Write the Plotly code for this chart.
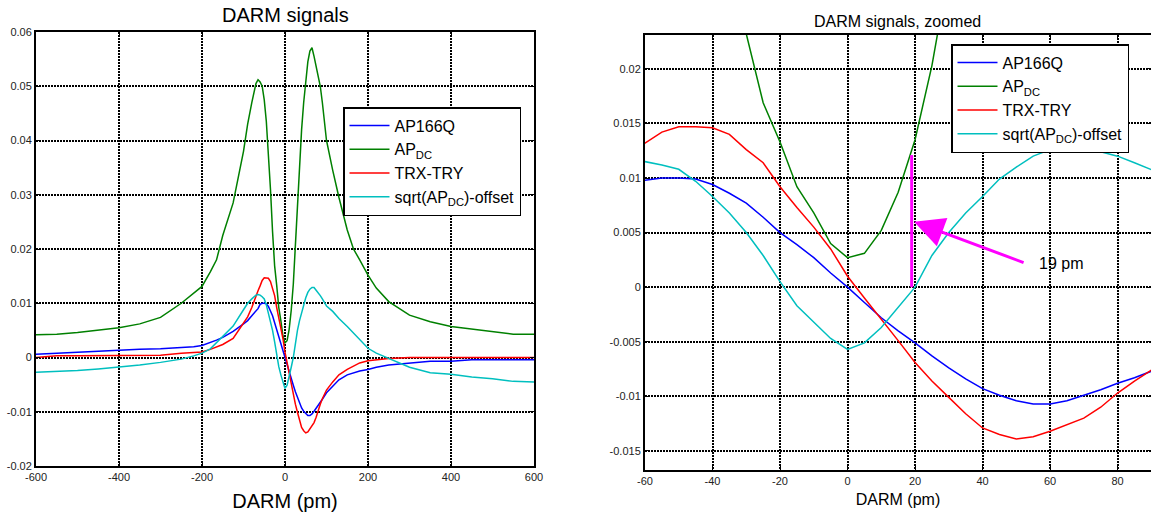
import plotly.graph_objects as go

# DARM offset (pm)
darm_pm = [-600, -550, -500, -450, -400, -350, -300, -250, -220, -200, -180, -165, -150, -125,
           -100, -90, -80, -70, -65, -60, -55, -50, -45, -40, -35, -30, -25, -20, -15, -10, -5,
           0, 5, 10, 15, 20, 25, 30, 35, 40, 45, 50, 55, 60, 65, 70, 75, 80, 85, 90,
           100, 115, 130, 150, 165, 180, 200, 220, 250, 300, 350, 400, 450, 500, 550, 600]

ap166q = [0.0006, 0.0008, 0.0010, 0.0012, 0.0013, 0.0015, 0.0016, 0.0018, 0.0020, 0.0022, 0.0027, 0.0032, 0.0037, 0.0048,
          0.0062, 0.0068, 0.0077, 0.0085, 0.0090, 0.0098, 0.0100, 0.0100, 0.0099, 0.0094, 0.0086, 0.0077, 0.0064, 0.0050, 0.0039, 0.0027, 0.0013,
          0.0000, -0.0014, -0.0028, -0.0040, -0.0051, -0.0063, -0.0074, -0.0084, -0.0093, -0.0099, -0.0104, -0.0107, -0.0107, -0.0104, -0.0099, -0.0094, -0.0088, -0.0083, -0.0077,
          -0.0065, -0.0052, -0.0041, -0.0032, -0.0028, -0.0025, -0.0022, -0.0018, -0.0014, -0.0010, -0.0007, -0.0007, -0.0004, -0.0004, -0.0004, -0.0004]

ap_dc = [0.0042, 0.0043, 0.0046, 0.0050, 0.0055, 0.0062, 0.0074, 0.0100, 0.0119, 0.0131, 0.0158, 0.0180, 0.0225, 0.0285,
         0.0380, 0.0430, 0.0470, 0.0505, 0.0512, 0.0508, 0.0500, 0.0475, 0.0435, 0.0380, 0.0310, 0.0232, 0.0169, 0.0133, 0.0092, 0.0068, 0.0040,
         0.0027, 0.0031, 0.0052, 0.0087, 0.0135, 0.0203, 0.0290, 0.0360, 0.0420, 0.0470, 0.0510, 0.0545, 0.0565, 0.0571, 0.0555, 0.0535, 0.0515, 0.0500, 0.0470,
         0.0400, 0.0345, 0.0295, 0.0235, 0.0200, 0.0180, 0.0152, 0.0128, 0.0103, 0.0078, 0.0066, 0.0057, 0.0052, 0.0048, 0.0043, 0.0043]

trx_try = [0.0000, 0.0003, 0.0003, 0.0003, 0.0003, 0.0003, 0.0004, 0.0008, 0.0009, 0.0010, 0.0015, 0.0019, 0.0024, 0.0035,
           0.0062, 0.0075, 0.0092, 0.0115, 0.0123, 0.0132, 0.0142, 0.0147, 0.0147, 0.0146, 0.0140, 0.0126, 0.0114, 0.0092, 0.0073, 0.0055, 0.0035,
           0.0010, -0.0010, -0.0029, -0.0049, -0.0069, -0.0086, -0.0101, -0.0116, -0.0129, -0.0135, -0.0139, -0.0137, -0.0132, -0.0126, -0.0120, -0.0110, -0.0097, -0.0086, -0.0076,
           -0.0060, -0.0045, -0.0032, -0.0022, -0.0016, -0.0010, -0.0006, -0.0004, -0.0002, 0.0000, 0.0000, 0.0000, 0.0000, 0.0000, 0.0000, 0.0000]

sqrt_ap_dc = [-0.0027, -0.0026, -0.0024, -0.0021, -0.0018, -0.0014, -0.0009, -0.0003, 0.0003, 0.0008, 0.0016, 0.0028, 0.0038, 0.0058,
              0.0088, 0.0100, 0.0108, 0.0115, 0.0116, 0.0115, 0.0112, 0.0108, 0.0097, 0.0083, 0.0068, 0.0050, 0.0029, 0.0005, -0.0017, -0.0032, -0.0047,
              -0.0057, -0.0051, -0.0037, -0.0018, 0.0000, 0.0029, 0.0050, 0.0068, 0.0083, 0.0099, 0.0110, 0.0120, 0.0126, 0.0129, 0.0129, 0.0124, 0.0120, 0.0114, 0.0108,
              0.0095, 0.0085, 0.0072, 0.0057, 0.0045, 0.0032, 0.0017, 0.0008, -0.0002, -0.0018, -0.0028, -0.0031, -0.0036, -0.0039, -0.0044, -0.0045]

series_names = ["AP166Q", "AP<sub>DC</sub>", "TRX-TRY", "sqrt(AP<sub>DC</sub>)-offset"]
series_colors = ["#0000ff", "#008000", "#ff0000", "#00bfbf"]
series_values = [ap166q, ap_dc, trx_try, sqrt_ap_dc]

# marker of the 19 pm offset (right panel)
offset_x = [19, 19]
offset_y = [0.0, 0.0121]
offset_label = "19 pm"

left_xticks = [-600, -400, -200, 0, 200, 400, 600]
left_xtext = ["-600", "-400", "-200", "0", "200", "400", "600"]
left_yticks = [-0.02, -0.01, 0, 0.01, 0.02, 0.03, 0.04, 0.05, 0.06]
left_ytext = ["-0.02", "-0.01", "0", "0.01", "0.02", "0.03", "0.04", "0.05", "0.06"]
right_xticks = [-60, -40, -20, 0, 20, 40, 60, 80]
right_xtext = ["-60", "-40", "-20", "0", "20", "40", "60", "80"]
right_yticks = [-0.015, -0.01, -0.005, 0, 0.005, 0.01, 0.015, 0.02]
right_ytext = ["-0.015", "-0.01", "-0.005", "0", "0.005", "0.01", "0.015", "0.02"]

FONT = "Liberation Sans, Arial, sans-serif"
W, H = 1151, 518

fig = go.Figure()
for name, color, vals in zip(series_names, series_colors, series_values):
    fig.add_trace(go.Scatter(x=darm_pm, y=vals, name=name, mode="lines",
                             line=dict(color=color, width=1.5),
                             xaxis="x", yaxis="y", legend="legend"))
for name, color, vals in zip(series_names, series_colors, series_values):
    fig.add_trace(go.Scatter(x=darm_pm, y=vals, name=name, mode="lines",
                             line=dict(color=color, width=1.5),
                             xaxis="x2", yaxis="y2", legend="legend2"))
fig.add_trace(go.Scatter(x=offset_x, y=offset_y, mode="lines", showlegend=False,
                         line=dict(color="#ff00ff", width=3), xaxis="x2", yaxis="y2"))

axis_common = dict(showline=True, linecolor="black", linewidth=2, mirror="ticks",
                   ticks="inside", ticklen=4, tickcolor="black", tickwidth=1,
                   showgrid=True, gridcolor="black", griddash="2px,1px", gridwidth=2,
                   zeroline=False, automargin=False,
                   tickfont=dict(family=FONT, size=11, color="#222"))

fig.update_layout(
    width=W, height=H,
    margin=dict(l=0, r=0, t=0, b=0),
    paper_bgcolor="white", plot_bgcolor="white",
    font=dict(family=FONT, color="black"),
    xaxis=dict(domain=[36 / W, 534 / W], range=[-600, 600], anchor="y",
               tickvals=left_xticks, ticktext=left_xtext,
               title=dict(text="DARM (pm)", font=dict(size=20, family=FONT), standoff=12),
               **axis_common),
    yaxis=dict(domain=[1 - 466 / H, 1 - 32 / H], range=[-0.02, 0.06], anchor="x",
               tickvals=left_yticks, ticktext=left_ytext, **axis_common),
    xaxis2=dict(domain=[645 / W, 1.0], range=[-60, 89.9], anchor="y2",
                tickvals=right_xticks, ticktext=right_xtext,
                title=dict(text="DARM (pm)", font=dict(size=16, family=FONT), standoff=8),
                **axis_common),
    yaxis2=dict(domain=[1 - 470 / H, 1 - 35 / H], range=[-0.01675, 0.0231], anchor="x2",
                tickvals=right_yticks, ticktext=right_ytext, **axis_common),
    legend=dict(x=343 / W, y=1 - 107 / H, xanchor="left", yanchor="top",
                bgcolor="white", bordercolor="black", borderwidth=1.5,
                font=dict(family=FONT, size=16), itemwidth=40, tracegroupgap=0),
    legend2=dict(x=951 / W, y=1 - 44 / H, xanchor="left", yanchor="top",
                 bgcolor="white", bordercolor="black", borderwidth=1.5,
                 font=dict(family=FONT, size=16), itemwidth=40, tracegroupgap=0),
    annotations=[
        dict(text="DARM signals", x=285 / W, y=1 - 15 / H, xref="paper", yref="paper",
             xanchor="center", yanchor="middle", showarrow=False,
             font=dict(family=FONT, size=20, color="black")),
        dict(text="DARM signals, zoomed", x=897 / W, y=1 - 21 / H, xref="paper", yref="paper",
             xanchor="center", yanchor="middle", showarrow=False,
             font=dict(family=FONT, size=16, color="black")),
        dict(text="", x=19.7, y=0.006, xref="x2", yref="y2", ax=52.6, ay=0.0022,
             axref="x2", ayref="y2", showarrow=True, arrowhead=2, arrowsize=2,
             arrowwidth=3, arrowcolor="#ff00ff"),
        dict(text=offset_label, x=56.2, y=0.0022, xref="x2", yref="y2",
             xanchor="left", yanchor="middle", showarrow=False,
             font=dict(family=FONT, size=16, color="black")),
    ],
)

fig.write_html("out.html")
